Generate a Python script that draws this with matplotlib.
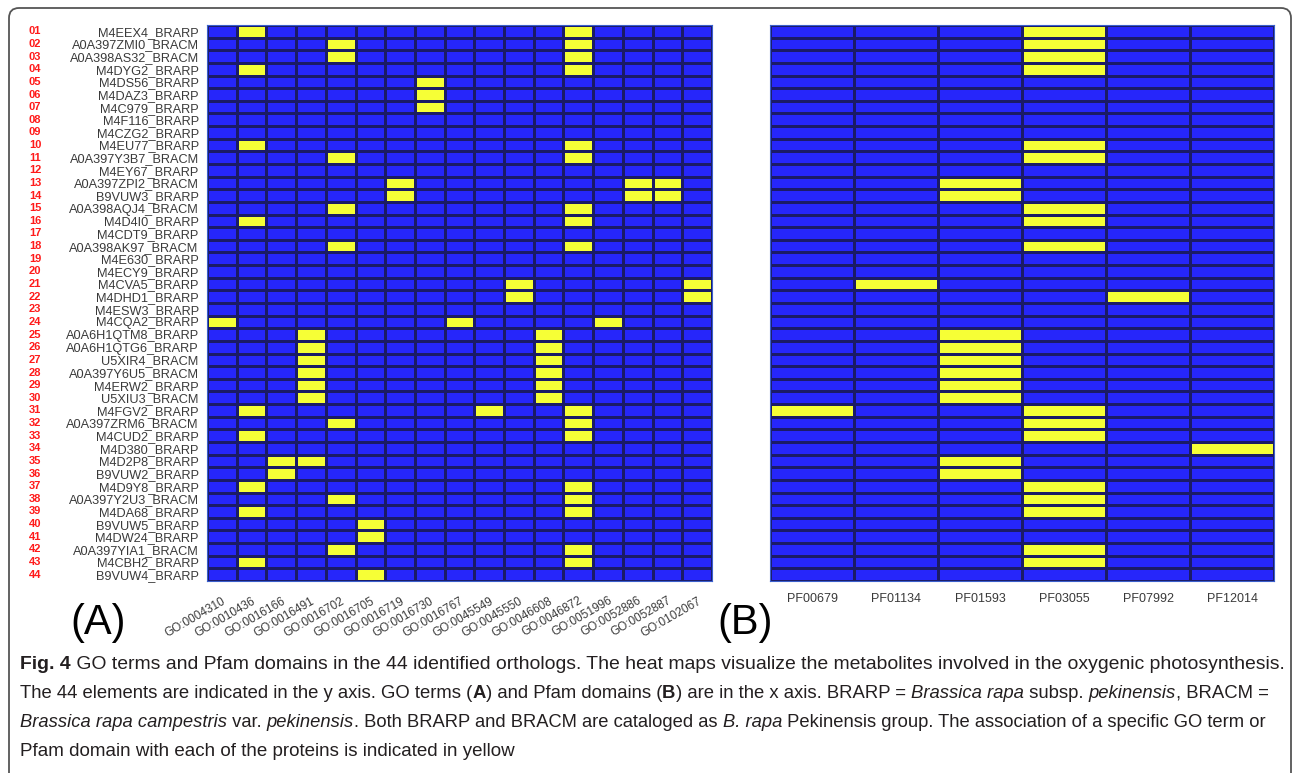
import numpy as np
import matplotlib
matplotlib.use("Agg")
import matplotlib.pyplot as plt
from matplotlib.colors import ListedColormap
from matplotlib.patches import FancyBboxPatch
import matplotlib.transforms as mtransforms

# ---------------- data ----------------
proteins = [
    "M4EEX4_BRARP", "A0A397ZMI0_BRACM", "A0A398AS32_BRACM", "M4DYG2_BRARP",
    "M4DS56_BRARP", "M4DAZ3_BRARP", "M4C979_BRARP", "M4F116_BRARP",
    "M4CZG2_BRARP", "M4EU77_BRARP", "A0A397Y3B7_BRACM", "M4EY67_BRARP",
    "A0A397ZPI2_BRACM", "B9VUW3_BRARP", "A0A398AQJ4_BRACM", "M4D4I0_BRARP",
    "M4CDT9_BRARP", "A0A398AK97_BRACM", "M4E630_BRARP", "M4ECY9_BRARP",
    "M4CVA5_BRARP", "M4DHD1_BRARP", "M4ESW3_BRARP", "M4CQA2_BRARP",
    "A0A6H1QTM8_BRARP", "A0A6H1QTG6_BRARP", "U5XIR4_BRACM", "A0A397Y6U5_BRACM",
    "M4ERW2_BRARP", "U5XIU3_BRACM", "M4FGV2_BRARP", "A0A397ZRM6_BRACM",
    "M4CUD2_BRARP", "M4D380_BRARP", "M4D2P8_BRARP", "B9VUW2_BRARP",
    "M4D9Y8_BRARP", "A0A397Y2U3_BRACM", "M4DA68_BRARP", "B9VUW5_BRARP",
    "M4DW24_BRARP", "A0A397YIA1_BRACM", "M4CBH2_BRARP", "B9VUW4_BRARP",
]
row_numbers = ["01", "02", "03", "04", "05", "06", "07", "08", "09", "10",
               "11", "12", "13", "14", "15", "16", "17", "18", "19", "20",
               "21", "22", "23", "24", "25", "26", "27", "28", "29", "30",
               "31", "32", "33", "34", "35", "36", "37", "38", "39", "40",
               "41", "42", "43", "44"]

go_terms = ["GO:0004310", "GO:0010436", "GO:0016166", "GO:0016491", "GO:0016702",
            "GO:0016705", "GO:0016719", "GO:0016730", "GO:0016767", "GO:0045549",
            "GO:0045550", "GO:0046608", "GO:0046872", "GO:0051996", "GO:0052886",
            "GO:0052887", "GO:0102067"]

pfam_domains = ["PF00679", "PF01134", "PF01593", "PF03055", "PF07992", "PF12014"]

# GO terms associated with each protein (row order as above)
go_hits = [
    ["GO:0010436", "GO:0046872"],
    ["GO:0016702", "GO:0046872"],
    ["GO:0016702", "GO:0046872"],
    ["GO:0010436", "GO:0046872"],
    ["GO:0016730"],
    ["GO:0016730"],
    ["GO:0016730"],
    [],
    [],
    ["GO:0010436", "GO:0046872"],
    ["GO:0016702", "GO:0046872"],
    [],
    ["GO:0016719", "GO:0052886", "GO:0052887"],
    ["GO:0016719", "GO:0052886", "GO:0052887"],
    ["GO:0016702", "GO:0046872"],
    ["GO:0010436", "GO:0046872"],
    [],
    ["GO:0016702", "GO:0046872"],
    [],
    [],
    ["GO:0045550", "GO:0102067"],
    ["GO:0045550", "GO:0102067"],
    [],
    ["GO:0004310", "GO:0016767", "GO:0051996"],
    ["GO:0016491", "GO:0046608"],
    ["GO:0016491", "GO:0046608"],
    ["GO:0016491", "GO:0046608"],
    ["GO:0016491", "GO:0046608"],
    ["GO:0016491", "GO:0046608"],
    ["GO:0016491", "GO:0046608"],
    ["GO:0010436", "GO:0045549", "GO:0046872"],
    ["GO:0016702", "GO:0046872"],
    ["GO:0010436", "GO:0046872"],
    [],
    ["GO:0016166", "GO:0016491"],
    ["GO:0016166"],
    ["GO:0010436", "GO:0046872"],
    ["GO:0016702", "GO:0046872"],
    ["GO:0010436", "GO:0046872"],
    ["GO:0016705"],
    ["GO:0016705"],
    ["GO:0016702", "GO:0046872"],
    ["GO:0010436", "GO:0046872"],
    ["GO:0016705"],
]

# Pfam domains associated with each protein
pfam_hits = [
    ["PF03055"], ["PF03055"], ["PF03055"], ["PF03055"],
    [], [], [], [], [],
    ["PF03055"], ["PF03055"], [],
    ["PF01593"], ["PF01593"],
    ["PF03055"], ["PF03055"], [], ["PF03055"],
    [], [],
    ["PF01134"], ["PF07992"], [], [],
    ["PF01593"], ["PF01593"], ["PF01593"], ["PF01593"], ["PF01593"], ["PF01593"],
    ["PF00679", "PF03055"], ["PF03055"], ["PF03055"], ["PF12014"],
    ["PF01593"], ["PF01593"],
    ["PF03055"], ["PF03055"], ["PF03055"],
    [], [],
    ["PF03055"], ["PF03055"], [],
]

panel_labels = ["(A)", "(B)"]

caption_lines = [
    [("Fig. 4", "bold"), (" GO terms and Pfam domains in the 44 identified orthologs. The heat maps visualize the metabolites involved in the oxygenic photosynthesis.", "normal")],
    [("The 44 elements are indicated in the y axis. GO terms (", "normal"), ("A", "bold"), (") and Pfam domains (", "normal"),
     ("B", "bold"), (") are in the x axis. BRARP = ", "normal"), ("Brassica rapa", "italic"), (" subsp. ", "normal"),
     ("pekinensis", "italic"), (", BRACM =", "normal")],
    [("Brassica rapa campestris", "italic"), (" var. ", "normal"), ("pekinensis", "italic"),
     (". Both BRARP and BRACM are cataloged as ", "normal"), ("B. rapa", "italic"),
     (" Pekinensis group. The association of a specific GO term or", "normal")],
    [("Pfam domain with each of the proteins is indicated in yellow", "normal")],
]

# ---------------- build matrices ----------------
go_mat = np.array([[1 if g in hits else 0 for g in go_terms] for hits in go_hits])
pf_mat = np.array([[1 if p in hits else 0 for p in pfam_domains] for hits in pfam_hits])

BLUE = "#2626FA"
YELLOW = "#F6FF36"
EDGE = "#1B1B66"
cmap = ListedColormap([BLUE, YELLOW])

W, H = 1293, 773
fig = plt.figure(figsize=(W / 100, H / 100), dpi=100)
fig.patch.set_facecolor("white")

def px_axes(x0, y0, x1, y1):
    return fig.add_axes([x0 / W, 1 - y1 / H, (x1 - x0) / W, (y1 - y0) / H])

axA = px_axes(207, 25, 712, 581)
axB = px_axes(770, 25, 1274, 581)

n = len(proteins)
for ax, mat in ((axA, go_mat), (axB, pf_mat)):
    ax.pcolormesh(mat, cmap=cmap, vmin=0, vmax=1, edgecolors=EDGE, linewidth=0.8)
    ax.set_xlim(0, mat.shape[1])
    ax.set_ylim(n, 0)
    for s in ax.spines.values():
        s.set_color("#3a5fcd")
        s.set_linewidth(0.8)
    ax.tick_params(length=0)

label_color = "#3a3a3a"
axA.set_yticks(np.arange(n) + 0.5)
axA.set_yticklabels(proteins, fontsize=9.2, color=label_color, family="Liberation Sans")
axA.tick_params(axis="y", pad=6)
axA.set_xticks(np.arange(len(go_terms)) + 0.5)
axA.set_xticklabels(go_terms, rotation=30, ha="right", va="top", rotation_mode="anchor",
                    fontsize=8.5, color=label_color, family="Liberation Sans")
axA.tick_params(axis="x", pad=10)

axB.set_yticks([])
axB.set_xticks(np.arange(len(pfam_domains)) + 0.5)
axB.set_xticklabels(pfam_domains, fontsize=9, color=label_color, family="Liberation Sans")
axB.tick_params(axis="x", pad=9)

# red row numbers
trans = mtransforms.blended_transform_factory(fig.transFigure, axA.transData)
for i, num in enumerate(row_numbers):
    axA.text(35 / W, i + 0.5, num, transform=trans, ha="center", va="center",
             fontsize=8, color="#FF1A1A", fontweight="bold", family="Liberation Sans")

# panel labels
fig.text(98 / W, 1 - 623 / H, panel_labels[0], ha="center", va="center", fontsize=30,
         family="Liberation Sans", color="black")
fig.text(745 / W, 1 - 623 / H, panel_labels[1], ha="center", va="center", fontsize=30,
         family="Liberation Sans", color="black")

# border box (open at the bottom edge of the image)
box = FancyBboxPatch((9, -40), 1282, 765 + 40, boxstyle="round,pad=0,rounding_size=10",
                     transform=None, facecolor="none", edgecolor="#555555", linewidth=1.3)
fig.patches.append(box)

# caption with mixed styles, each full line fitted to the reference width
fig.canvas.draw()
renderer = fig.canvas.get_renderer()
cap_font = "Liberation Sans"

def draw_line(segs, size, x0, yb):
    x = x0
    texts = []
    for seg, style in segs:
        kw = dict(fontsize=size, family=cap_font, color="#231F20")
        if style == "bold":
            kw["fontweight"] = "bold"
        elif style == "italic":
            kw["fontstyle"] = "italic"
        t = fig.text(x / W, 1 - yb / H, seg, ha="left", va="baseline", **kw)
        x += t.get_window_extent(renderer).width
        texts.append(t)
    return texts, x - x0

line_y = [669, 698, 727, 756]
line_w = [1258, 1250, 1240, None]
sizes = []
for segs, yb, target in zip(caption_lines, line_y, line_w):
    if target is None:
        size = float(np.mean(sizes))
    else:
        texts, w = draw_line(segs, 13.0, 20, yb)
        for t in texts:
            t.remove()
        size = 13.0 * target / w
        sizes.append(size)
    draw_line(segs, size, 20, yb)

fig.savefig("out.png", dpi=100)
